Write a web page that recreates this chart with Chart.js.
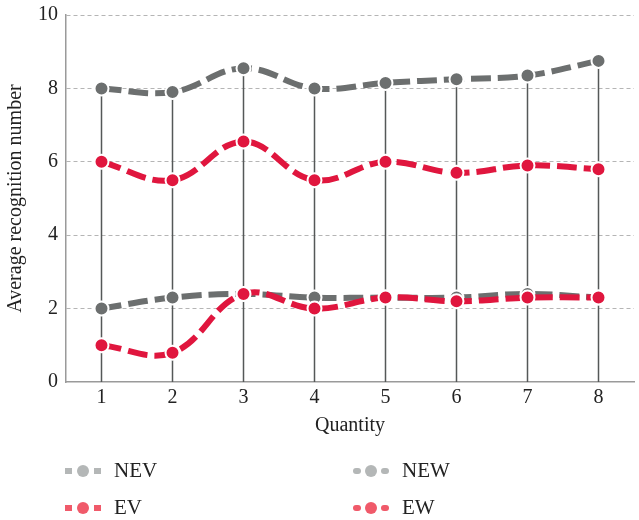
<!DOCTYPE html>
<html>
<head>
<meta charset="utf-8">
<script src="https://cdn.jsdelivr.net/npm/chart.js@4.4.1/dist/chart.umd.min.js"></script>
<style>
  body { margin: 0; background: #fff; font-family: "Liberation Serif", "DejaVu Serif", serif; overflow: hidden; }
  #wrap { position: absolute; left: 0; top: -5px; width: 643px; height: 449px; }
  .legend { position: absolute; left: 0; top: 440px; width: 639px; height: 80px; }
  .item { position: absolute; display: flex; align-items: center; font-size: 21px; color: #222; }
  .sym { position: relative; width: 36px; height: 14px; margin-right: 13px; }
  .sym .d { position: absolute; top: 4px; width: 7px; height: 6px; }
  .sym .c { position: absolute; left: 12px; top: 1px; width: 12px; height: 12px; border-radius: 50%; }
  .sym.round .d { width: 8px; border-radius: 3px; }
</style>
</head>
<body>
<div id="wrap"><canvas id="chart"></canvas></div>
<div class="legend" id="legend"></div>
<script>
// data
const quantities = ["1", "2", "3", "4", "5", "6", "7", "8"];
const nevValues = [8.0, 7.9, 8.55, 8.0, 8.15, 8.25, 8.35, 8.75];
const evValues = [6.0, 5.5, 6.55, 5.5, 6.0, 5.7, 5.9, 5.8];
const newValues = [2.0, 2.3, 2.4, 2.3, 2.3, 2.3, 2.4, 2.3];
const ewValues = [1.0, 0.8, 2.4, 2.0, 2.3, 2.2, 2.3, 2.3];
const yTicks = [0, 2, 4, 6, 8, 10];

const gray = "#6c6f6f";
const red = "#e0163e";

function series(label, data, color, order) {
  return {
    label: label,
    data: data,
    borderColor: color,
    backgroundColor: color,
    borderWidth: 6,
    borderDash: [20, 7],
    tension: 0.4,
    pointRadius: 7,
    pointBorderWidth: 2,
    pointBorderColor: "#fff",
    pointBackgroundColor: color,
    order: order,
  };
}

// vertical drop lines from top series down to the axis
const dropLines = {
  id: "dropLines",
  beforeDatasetsDraw(chart) {
    const ctx = chart.ctx;
    const x = chart.scales.x;
    const y = chart.scales.y;
    ctx.save();
    ctx.strokeStyle = "#555858";
    ctx.lineWidth = 1.5;
    nevValues.forEach((v, i) => {
      const px = x.getPixelForValue(i);
      ctx.beginPath();
      ctx.moveTo(px, y.getPixelForValue(v));
      ctx.lineTo(px, y.getPixelForValue(0));
      ctx.stroke();
    });
    ctx.restore();
  },
};

const tickFont = { family: "Liberation Serif", size: 20 };

new Chart(document.getElementById("chart"), {
  type: "line",
  data: {
    labels: quantities,
    datasets: [
      series("NEV", nevValues, gray, 2),
      series("NEW", newValues, gray, 2),
      series("EV", evValues, red, 1),
      series("EW", ewValues, red, 1),
    ],
  },
  options: {
    responsive: true,
    maintainAspectRatio: false,
    animation: false,
    layout: { padding: { top: 3, right: 1, bottom: 2, left: 0 } },
    plugins: { legend: { display: false }, tooltip: { enabled: false } },
    scales: {
      x: {
        offset: true,
        grid: { display: false, drawTicks: false },
        border: { color: "#9a9a9a", width: 1.5 },
        ticks: { color: "#222", font: tickFont, padding: 4 },
        title: { display: true, text: "Quantity", color: "#222", font: tickFont, padding: { top: 0 } },
      },
      y: {
        min: 0,
        max: 10,
        afterBuildTicks(scale) {
          scale.ticks = yTicks.map((v) => ({ value: v }));
        },
        afterFit(scale) {
          scale.width = 66;
        },
        grid: {
          color: (c) => (c.tick.value === 0 ? "rgba(0,0,0,0)" : "#b5b5b5"),
          drawTicks: false,
        },
        border: { color: "#9a9a9a", width: 1.5, dash: [4, 3] },
        ticks: { color: "#222", font: tickFont, padding: 8 },
        title: { display: true, text: "Average recognition number", color: "#222", font: tickFont, padding: { bottom: 2 } },
      },
    },
  },
  plugins: [dropLines],
});

// legend
const legendItems = [
  { label: "NEV", color: "#b4b7b7", round: false, left: 65, top: 30 },
  { label: "NEW", color: "#b4b7b7", round: true, left: 353, top: 30 },
  { label: "EV", color: "#f05a6a", round: false, left: 65, top: 67 },
  { label: "EW", color: "#f05a6a", round: true, left: 353, top: 67 },
];
const legendEl = document.getElementById("legend");
legendItems.forEach((it) => {
  const div = document.createElement("div");
  div.className = "item";
  div.style.left = it.left + "px";
  div.style.top = it.top - 12 + "px";
  div.innerHTML =
    '<span class="sym' + (it.round ? " round" : "") + '">' +
    '<span class="d" style="left:0;background:' + it.color + '"></span>' +
    '<span class="c" style="background:' + it.color + '"></span>' +
    '<span class="d" style="right:0;background:' + it.color + '"></span>' +
    "</span><span>" + it.label + "</span>";
  legendEl.appendChild(div);
});
</script>
</body>
</html>
